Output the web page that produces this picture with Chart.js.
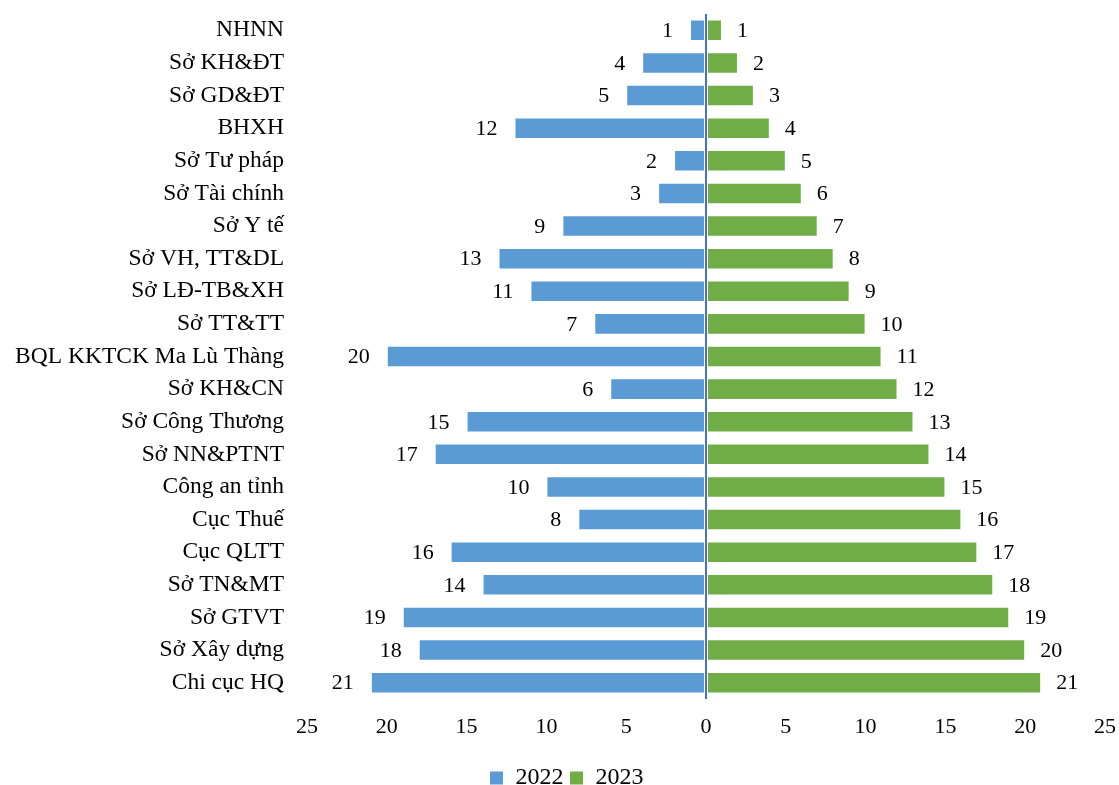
<!DOCTYPE html>
<html>
<head>
<meta charset="utf-8">
<script src="https://cdn.jsdelivr.net/npm/chart.js@4/dist/chart.umd.min.js"></script>
<style>
	html, body { margin: 0; padding: 0; background: #fff; }
	#wrap { width: 1119px; height: 785px; }
</style>
</head>
<body>
<div id="wrap"><canvas id="chart"></canvas></div>
<script>
var categories = ['NHNN', 'Sở KH&ĐT', 'Sở GD&ĐT', 'BHXH', 'Sở Tư pháp', 'Sở Tài chính', 'Sở Y tế',
	'Sở VH, TT&DL', 'Sở LĐ-TB&XH', 'Sở TT&TT', 'BQL KKTCK Ma Lù Thàng', 'Sở KH&CN', 'Sở Công Thương',
	'Sở NN&PTNT', 'Công an tỉnh', 'Cục Thuế', 'Cục QLTT', 'Sở TN&MT', 'Sở GTVT', 'Sở Xây dựng', 'Chi cục HQ']
var values2022 = [1, 4, 5, 12, 2, 3, 9, 13, 11, 7, 20, 6, 15, 17, 10, 8, 16, 14, 19, 18, 21]
var values2023 = [1, 2, 3, 4, 5, 6, 7, 8, 9, 10, 11, 12, 13, 14, 15, 16, 17, 18, 19, 20, 21]
var seriesNames = ['2022', '2023']

var FONT = 'Liberation Serif, Times New Roman, serif'

// labels beside each bar end
var barLabels = {
	id: 'barLabels',
	afterDatasetsDraw: function(chart) {
		var ctx = chart.ctx
		ctx.save()
		ctx.font = '22px ' + FONT
		ctx.fillStyle = '#000'
		ctx.textBaseline = 'middle'
		chart.data.datasets.forEach(function(ds, i) {
			var meta = chart.getDatasetMeta(i)
			meta.data.forEach(function(bar, j) {
				var v = ds.data[j]
				if (v < 0) {
					ctx.textAlign = 'right'
					ctx.fillText(String(-v), bar.x - 17, bar.y + 1)
				} else {
					ctx.textAlign = 'left'
					ctx.fillText(String(v), bar.x + 15, bar.y + 1)
				}
			})
		})
		ctx.restore()
	}
}

// centre the legend under the plot area rather than the canvas
var legendShift = {
	id: 'legendShift',
	afterLayout: function(chart) {
		if (!chart.legend) return
		chart.legend.left += 14
		chart.legend.right += 14
	}
}

var ctx = document.getElementById('chart').getContext('2d')
var chart = new Chart(ctx, {
	type: 'bar',
	data: {
		labels: categories,
		datasets: [{
			label: seriesNames[0],
			data: values2022.map(function(v) { return -v }),
			backgroundColor: '#5B9BD5',
			borderColor: '#ffffff',
			borderWidth: 1,
			borderSkipped: false
		}, {
			label: seriesNames[1],
			data: values2023,
			backgroundColor: '#70AD47',
			borderColor: '#ffffff',
			borderWidth: 1,
			borderSkipped: false
		}]
	},
	options: {
		indexAxis: 'y',
		responsive: true,
		maintainAspectRatio: false,
		animation: false,
		datasets: {
			bar: { categoryPercentage: 1, barPercentage: 0.66 }
		},
		layout: { padding: { left: 0, right: 14, top: 14, bottom: -15 } },
		scales: {
			x: {
				stacked: true,
				min: -25,
				max: 25,
				border: { display: false },
				grid: {
					drawTicks: false,
					lineWidth: 2,
					color: function(c) { return c.tick && c.tick.value === 0 ? '#4472C4' : 'rgba(0,0,0,0)' }
				},
				ticks: {
					stepSize: 5,
					padding: 15,
					color: '#000',
					font: { family: FONT, size: 22 },
					callback: function(v) { return Math.abs(v) }
				},
				afterFit: function(s) {
					s.height = 61
					s.paddingLeft = 0
					s.paddingRight = 0
				}
			},
			y: {
				stacked: true,
				border: { display: false },
				grid: { display: false, drawTicks: false },
				ticks: {
					padding: 23,
					color: '#000',
					autoSkip: false,
					font: { family: FONT, size: 23.5 }
				},
				afterFit: function(s) {
					s.width = 307
					s.paddingTop = 0
					s.paddingBottom = 0
				}
			}
		},
		plugins: {
			legend: {
				position: 'bottom',
				labels: {
					boxWidth: 14,
					boxHeight: 14,
					padding: 6,
					color: '#000',
					font: { family: FONT, size: 24, lineHeight: 1 }
				}
			},
			tooltip: { enabled: false }
		}
	},
	plugins: [barLabels, legendShift]
})
</script>
</body>
</html>
